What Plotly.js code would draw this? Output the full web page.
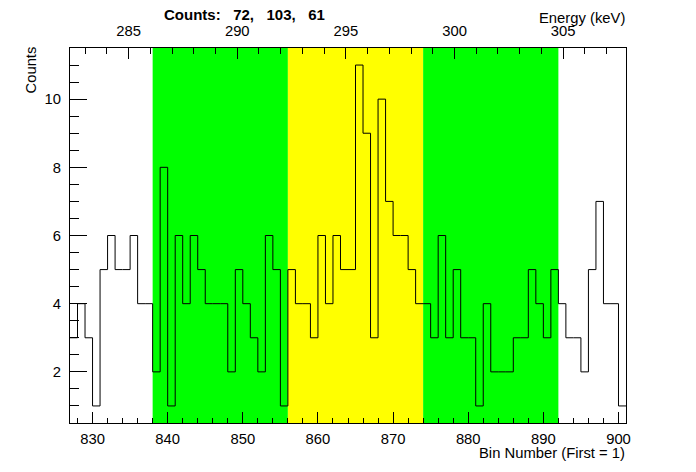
<!DOCTYPE html>
<html>
<head>
<meta charset="utf-8">
<script src="https://cdn.plot.ly/plotly-3.0.1.min.js"></script>
<style>html,body{margin:0;padding:0;background:#fff;}#chart{width:696px;height:472px;}</style>
</head>
<body>
<div id="chart"></div>
<script>
// ---- data ----
const firstBin = 827;
const counts = [3,4,3,1,5,6,5,5,6,4,4,
  2,8,1,6,4,6,5,4,4,4,2,5,4,3,2,6,5,1,
  5,4,4,3,6,4,6,5,5,11,9,3,10,7,6,6,5,4,
  4,3,6,3,5,3,3,1,4,2,2,2,3,3,5,4,3,5,
  4,3,3,2,5,7,4,4,1];
const bandEdges = [838, 856, 874, 892];
const bandColors = ['#00ff00', '#ffff00', '#00ff00'];
// energy calibration (keV at bin 830, keV per bin)
const eRefBin = 830, eRef = 283.34, eSlope = 0.3458;

// ---- build ----
const lastBin = firstBin + counts.length; // upper edge
const xs = [], ys = [];
counts.forEach((c, i) => { xs.push(firstBin + i); ys.push(c); });
xs.push(lastBin); ys.push(counts[counts.length - 1]);

const bandSums = [];
for (let b = 0; b < bandEdges.length - 1; b++) {
  let s = 0;
  counts.forEach((c, i) => { const x = firstBin + i; if (x >= bandEdges[b] && x < bandEdges[b+1]) s += c; });
  bandSums.push(s);
}
const E = b => eRef + eSlope * (b - eRefBin);

const shapes = bandColors.map((col, i) => ({
  type: 'rect', xref: 'x', yref: 'paper', x0: bandEdges[i], x1: bandEdges[i+1], y0: 0, y1: 1,
  fillcolor: col, line: {width: 0}, layer: 'below'
}));

const font = {family: 'Liberation Sans, Arial, sans-serif', size: 14.8, color: '#000'};
const nb = '\u00a0';
const titleText = 'Counts:' + nb + nb + ' ' + bandSums.join(',' + nb + nb + ' ');

const traces = [
  {x: xs, y: ys, type: 'scatter', mode: 'lines', line: {shape: 'hv', color: '#000', width: 1}, hoverinfo: 'none', xaxis: 'x', yaxis: 'y'},
  {x: [E(firstBin), E(lastBin)], y: [counts[0], counts[counts.length-1]], type: 'scatter', mode: 'markers', marker: {opacity: 0}, hoverinfo: 'none', xaxis: 'x2', yaxis: 'y'}
];

const layout = {
  width: 696, height: 472,
  margin: {l: 70, r: 70, t: 48, b: 49},
  paper_bgcolor: '#fff', plot_bgcolor: '#fff',
  showlegend: false,
  font: font,
  xaxis: {
    range: [firstBin, lastBin], tick0: 0, dtick: 10, ticks: 'inside', ticklen: 11, tickcolor: '#000', tickwidth: 1,
    minor: {dtick: 2, ticks: 'inside', ticklen: 5.5, tickcolor: '#000'},
    showline: true, linecolor: '#000', linewidth: 1, mirror: false, showgrid: false, zeroline: false,
    tickfont: font, ticklabelstandoff: 2
  },
  xaxis2: {
    overlaying: 'x', side: 'top', range: [E(firstBin), E(lastBin)], tick0: 0, dtick: 5, ticks: 'inside', ticklen: 11, tickcolor: '#000',
    minor: {dtick: 1, ticks: 'inside', ticklen: 5.5, tickcolor: '#000'},
    showline: true, linecolor: '#000', linewidth: 1, showgrid: false, zeroline: false,
    tickfont: font, ticklabelstandoff: 5
  },
  yaxis: {
    range: [0.5, 11.5], tick0: 0, dtick: 2, ticks: 'inside', ticklen: 17, tickcolor: '#000',
    minor: {dtick: 0.5, ticks: 'inside', ticklen: 8.5, tickcolor: '#000'},
    showline: true, linecolor: '#000', linewidth: 1, mirror: true, showgrid: false, zeroline: false,
    tickfont: font, ticklabelstandoff: 5
  },
  shapes: shapes,
  annotations: [
    {text: titleText, xref: 'paper', yref: 'paper', x: (162-70)/556, y: (423-14)/375, xanchor: 'left', yanchor: 'middle', showarrow: false,
     font: {family: font.family, size: 15, color: '#000', weight: 'bold'}},
    {text: 'Energy (keV)', xref: 'paper', yref: 'paper', x: 1.002, y: (423-18)/375, xanchor: 'right', yanchor: 'middle', showarrow: false, font: font},
    {text: 'Bin Number (First = 1)', xref: 'paper', yref: 'paper', x: 1.002, y: (423-453)/375, xanchor: 'right', yanchor: 'middle', showarrow: false, font: font},
    {text: 'Counts', xref: 'paper', yref: 'paper', x: (30-70)/556, y: (423-45)/375, xanchor: 'center', yanchor: 'top', textangle: -90, showarrow: false, font: font}
  ]
};

Plotly.newPlot('chart', traces, layout, {displayModeBar: false, staticPlot: true});
</script>
</body>
</html>
